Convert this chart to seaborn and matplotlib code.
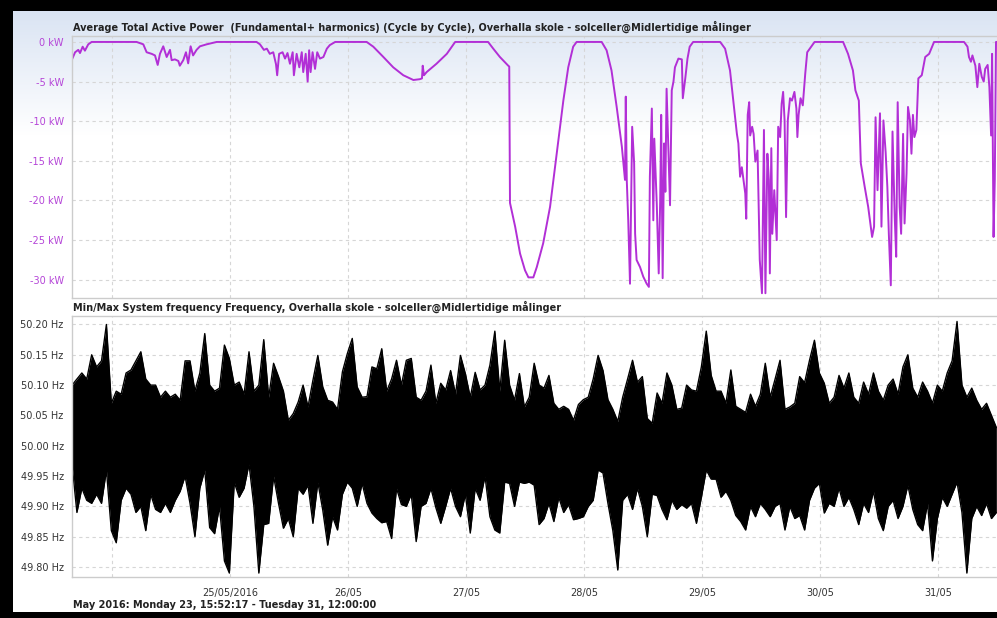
import numpy as np
import pandas as pd
import matplotlib
matplotlib.use("Agg")
import matplotlib.pyplot as plt
import seaborn as sns

# ── Data ────────────────────────────────────────────────────────────────────
START = pd.Timestamp("2016-05-23 00:00:00")
X_MIN = pd.Timestamp("2016-05-23 15:52:17")
X_MAX = pd.Timestamp("2016-05-31 12:00:00")

# active power: hours since 23/05 00:00 and kW
pw_hours = [15.8, 16.5, 17.15, 17.5, 18.04, 18.5, 19.18, 19.87, 29.0, 30.37, 31.05, 32.07, 32.75, 33.3,
            33.76, 34.43, 35.13, 35.8, 36.14, 36.8, 37.5, 37.8, 38.5, 39.05, 39.5, 40.0, 40.5, 41.2,
            41.9, 43.26, 44.6, 45.3, 53.4, 54.1, 54.9, 55.5, 56.1, 56.8, 57.36, 57.6, 58.0, 58.7,
            59.2, 59.7, 60.2, 60.75, 61.0, 61.56, 62.1, 62.6, 62.9, 63.4, 63.8, 64.1, 64.4, 64.8,
            65.3, 65.75, 66.3, 67.0, 67.7, 68.3, 69.4, 75.8, 77.15, 79.2, 81.2, 83.25, 85.3, 86.6,
            87.05, 87.2, 87.46, 88.0, 90.0, 92.1, 93.8, 100.5, 101.55, 102.9, 104.6, 104.8, 104.95,
            106.0, 107.0, 108.0, 108.7, 109.7, 110.4, 111.7, 113.1, 114.45, 115.8, 116.8, 117.8,
            118.5, 123.6, 124.6, 125.6, 126.65, 127.7, 128.34, 128.5, 128.7, 129.0, 129.36, 129.8,
            130.2, 130.4, 130.7, 131.4, 132.05, 132.75, 133.2, 133.4, 133.8, 134.1, 134.3, 134.8,
            135.2, 135.5, 135.7, 136.0, 136.3, 136.55, 136.8, 137.15, 137.5, 137.85, 138.2, 138.5,
            139.2, 139.9, 140.1, 140.6, 141.05, 141.5, 142.2, 147.7, 148.7, 149.7, 150.4, 151.1,
            151.4, 151.75, 152.1, 152.8, 153.0, 153.3, 153.6, 153.8, 154.2, 154.5, 154.85, 155.3,
            155.75, 156.2, 156.6, 156.9, 157.3, 157.6, 157.8, 158.1, 158.3, 158.7, 159.0, 159.2,
            159.5, 159.9, 160.2, 160.5, 160.8, 161.1, 161.45, 161.9, 162.3, 162.8, 163.2, 163.4,
            163.65, 164.05, 164.5, 165.0, 165.4, 166.2, 166.9, 172.7, 173.7, 174.7, 175.2, 175.9,
            176.3, 177.1, 177.8, 178.6, 179.0, 179.3, 179.7, 180.2, 180.5, 180.9, 181.35, 181.7,
            182.0, 182.4, 182.75, 183.2, 183.5, 183.8, 184.2, 184.5, 184.9, 185.2, 185.6, 185.9,
            186.3, 186.6, 186.9, 187.2, 187.6, 188.0, 188.7, 189.4, 190.2, 191.2, 197.3, 198.0,
            198.3, 198.7, 199.0, 199.6, 200.0, 200.4, 200.9, 201.3, 201.6, 202.1, 202.45, 202.8,
            203.0, 203.3, 203.55, 203.8, 204.0]
pw_kw = [-2.3, -1.3, -1.0, -1.4, -0.6, -1.1, -0.3, 0.0, 0.0, -0.3, -1.3, -1.5, -1.7, -2.9,
         -1.5, -0.55, -1.9, -1.0, -2.3, -2.2, -2.4, -3.0, -2.3, -1.3, -2.7, -0.55, -1.7, -1.0,
         -0.55, -0.3, -0.1, 0.0, 0.0, -0.3, -1.0, -0.85, -1.5, -1.3, -2.8, -4.2, -1.5, -1.3,
         -2.1, -1.4, -2.75, -1.3, -4.2, -1.5, -3.2, -1.3, -3.8, -1.5, -5.0, -1.05, -3.8, -1.3,
         -3.4, -1.3, -2.1, -1.9, -0.85, -0.4, 0.0, 0.0, -0.6, -1.9, -3.2, -4.2, -4.8, -4.7,
         -4.6, -3.0, -4.2, -3.8, -2.75, -1.5, 0.0, 0.0, -0.85, -1.9, -3.0, -3.1, -20.3,
         -23.3, -26.7, -28.8, -29.7, -29.7, -28.4, -25.4, -20.8, -14.1, -7.4, -3.2, -0.6,
         0.0, 0.0, -1.05, -3.6, -8.2, -13.2, -17.4, -6.9, -17.4, -22.5, -30.5, -10.7,
         -15.3, -24.2, -27.5, -28.4, -29.6, -30.5, -30.9, -17.0, -8.4, -22.5, -12.2, -20.4,
         -29.2, -20.0, -9.2, -29.8, -12.8, -18.9, -5.9, -13.2, -20.6, -6.1, -5.0, -3.2,
         -2.1, -2.2, -7.1, -4.6, -2.1, -0.6, 0.0, 0.0, -0.85, -3.6, -7.6, -11.6,
         -12.8, -17.0, -15.8, -19.1, -22.3, -9.2, -7.6, -11.8, -10.7, -11.6, -15.1, -13.7,
         -27.5, -31.7, -11.1, -31.7, -14.1, -17.4, -29.2, -13.4, -24.2, -18.7, -22.5, -25.0,
         -10.7, -12.0, -7.8, -6.3, -9.9, -22.1, -9.9, -7.1, -7.4, -6.3, -8.4, -12.0,
         -9.2, -7.1, -8.0, -4.0, -1.3, -0.6, 0.0, 0.0, -1.5, -3.6, -6.1, -7.4,
         -15.3, -18.3, -20.8, -24.6, -23.3, -9.5, -18.7, -9.0, -23.3, -9.9, -13.9, -18.3,
         -24.2, -30.7, -11.3, -22.1, -27.1, -7.6, -20.8, -24.2, -11.6, -22.9, -16.6, -8.2,
         -9.9, -14.1, -9.2, -12.0, -11.1, -4.6, -4.2, -1.9, -1.5, 0.0, 0.0, -0.6,
         -1.9, -2.5, -1.7, -3.0, -5.7, -2.75, -4.4, -5.0, -3.4, -2.9, -5.7, -11.8,
         -1.5, -24.6, -17.4, 0.0, 0.0]

# system frequency: hourly max / min from 23/05 15:52 (Hz)
freq_max = [50.100, 50.110, 50.120, 50.110, 50.150, 50.130, 50.140, 50.200, 50.070, 50.090,
            50.085, 50.120, 50.125, 50.140, 50.155, 50.110, 50.100, 50.100, 50.080, 50.090,
            50.080, 50.085, 50.075, 50.140, 50.140, 50.090, 50.120, 50.185, 50.100, 50.090,
            50.095, 50.166, 50.144, 50.100, 50.105, 50.085, 50.155, 50.090, 50.100, 50.175,
            50.080, 50.136, 50.114, 50.090, 50.042, 50.053, 50.072, 50.100, 50.064, 50.108,
            50.149, 50.097, 50.075, 50.072, 50.060, 50.122, 50.152, 50.177, 50.097, 50.080,
            50.081, 50.130, 50.127, 50.160, 50.090, 50.110, 50.141, 50.100, 50.141, 50.144,
            50.080, 50.075, 50.090, 50.133, 50.070, 50.103, 50.092, 50.124, 50.085, 50.149,
            50.119, 50.080, 50.121, 50.092, 50.100, 50.133, 50.189, 50.090, 50.174, 50.100,
            50.075, 50.119, 50.064, 50.080, 50.136, 50.100, 50.095, 50.116, 50.070, 50.060,
            50.065, 50.060, 50.042, 50.068, 50.076, 50.080, 50.110, 50.149, 50.124, 50.076,
            50.060, 50.040, 50.080, 50.110, 50.141, 50.105, 50.114, 50.045, 50.037, 50.087,
            50.070, 50.120, 50.100, 50.060, 50.062, 50.100, 50.092, 50.090, 50.130, 50.189,
            50.116, 50.090, 50.090, 50.070, 50.125, 50.065, 50.060, 50.055, 50.085, 50.065,
            50.085, 50.136, 50.080, 50.110, 50.141, 50.060, 50.064, 50.070, 50.114, 50.104,
            50.141, 50.174, 50.120, 50.103, 50.070, 50.080, 50.116, 50.095, 50.120, 50.080,
            50.070, 50.105, 50.085, 50.120, 50.090, 50.075, 50.100, 50.110, 50.085, 50.130,
            50.150, 50.095, 50.080, 50.105, 50.090, 50.070, 50.100, 50.090, 50.120, 50.140,
            50.205, 50.100, 50.080, 50.095, 50.075, 50.060, 50.070, 50.050, 50.030]
freq_min = [49.970, 49.890, 49.930, 49.910, 49.905, 49.920, 49.905, 49.960, 49.860, 49.840,
            49.910, 49.930, 49.920, 49.890, 49.900, 49.860, 49.920, 49.895, 49.890, 49.905,
            49.890, 49.910, 49.925, 49.950, 49.905, 49.850, 49.930, 49.960, 49.865, 49.855,
            49.900, 49.810, 49.790, 49.940, 49.915, 49.930, 49.970, 49.900, 49.790, 49.870,
            49.872, 49.950, 49.905, 49.864, 49.880, 49.850, 49.930, 49.920, 49.935, 49.872,
            49.940, 49.894, 49.836, 49.883, 49.861, 49.920, 49.940, 49.930, 49.900, 49.938,
            49.905, 49.889, 49.880, 49.873, 49.875, 49.847, 49.930, 49.903, 49.900, 49.920,
            49.842, 49.900, 49.905, 49.930, 49.898, 49.872, 49.900, 49.930, 49.900, 49.883,
            49.920, 49.856, 49.930, 49.910, 49.950, 49.883, 49.861, 49.856, 49.940, 49.938,
            49.900, 49.940, 49.938, 49.940, 49.935, 49.870, 49.880, 49.905, 49.875, 49.915,
            49.890, 49.903, 49.878, 49.880, 49.883, 49.900, 49.910, 49.960, 49.955, 49.905,
            49.860, 49.795, 49.910, 49.920, 49.895, 49.930, 49.900, 49.850, 49.920, 49.918,
            49.895, 49.878, 49.910, 49.895, 49.903, 49.897, 49.905, 49.872, 49.915, 49.960,
            49.945, 49.945, 49.915, 49.925, 49.910, 49.885, 49.875, 49.861, 49.900, 49.883,
            49.905, 49.895, 49.883, 49.900, 49.905, 49.861, 49.900, 49.880, 49.885, 49.861,
            49.910, 49.930, 49.938, 49.889, 49.905, 49.900, 49.930, 49.900, 49.915, 49.895,
            49.870, 49.905, 49.890, 49.925, 49.880, 49.860, 49.900, 49.910, 49.880, 49.900,
            49.935, 49.895, 49.870, 49.860, 49.905, 49.810, 49.880, 49.915, 49.900, 49.920,
            49.940, 49.890, 49.790, 49.880, 49.900, 49.885, 49.905, 49.880, 49.890]

kw_ticks = [0, -5, -10, -15, -20, -25, -30]
hz_ticks = [50.20, 50.15, 50.10, 50.05, 50.00, 49.95, 49.90, 49.85, 49.80]
day_ticks = pd.date_range("2016-05-24", "2016-05-31", freq="D")
day_labels = ["", "25/05/2016", "26/05", "27/05", "28/05", "29/05", "30/05", "31/05"]

TITLE_TOP = "Average Total Active Power  (Fundamental+ harmonics) (Cycle by Cycle), Overhalla skole - solceller@Midlertidige målinger"
TITLE_BOT = "Min/Max System frequency Frequency, Overhalla skole - solceller@Midlertidige målinger"
FOOTER = "May 2016: Monday 23, 15:52:17 - Tuesday 31, 12:00:00"

power = pd.DataFrame({"time": START + pd.to_timedelta(pw_hours, unit="h"), "kw": pw_kw})
freq = pd.DataFrame({"time": pd.date_range(X_MIN, periods=len(freq_max), freq="h"),
                     "fmax": freq_max, "fmin": freq_min})

# ── Style ───────────────────────────────────────────────────────────────────
sns.set_style("white")
plt.rcParams.update({"font.family": ["DejaVu Sans"], "font.size": 7})

PURPLE = "#b22fd6"
GRID = "#d6d6d6"
SPINE = "#cccccc"
W, H = 997, 618

fig = plt.figure(figsize=(W / 100, H / 100), dpi=100, facecolor="black")

# background panel with light blue gradient at the top
bg = fig.add_axes([13 / W, 6 / H, 1 - 13 / W, (612 - 11) / H])
rows = np.ones(601)
rows[:125] = np.linspace(0.0, 1.0, 125)
top_rgb = np.array([0.855, 0.894, 0.953])
img = top_rgb[None, :] + (1 - top_rgb)[None, :] * rows[:, None]
bg.imshow(np.repeat(img[:, None, :], 10, axis=1), aspect="auto", extent=[0, 1, 0, 1])
bg.set_axis_off()


def px_axes(left, top, right, bottom):
    return fig.add_axes([left / W, 1 - bottom / H, (right - left) / W, (bottom - top) / H])


def style_axes(ax):
    ax.set_facecolor("none")
    ax.set_axisbelow(True)
    ax.grid(True, color=GRID, linestyle=(0, (3, 3)), linewidth=0.8)
    for side in ["left", "bottom", "top"]:
        ax.spines[side].set_color(SPINE)
        ax.spines[side].set_linewidth(1.0)
    ax.spines["right"].set_visible(False)
    ax.set_xlim(X_MIN, X_MAX)
    ax.set_xticks(day_ticks)
    ax.set_xlabel("")
    ax.set_ylabel("")
    ax.tick_params(axis="y", length=3, width=0.8, color=SPINE, pad=3, labelsize=7)


# ── Top: active power ───────────────────────────────────────────────────────
ax1 = px_axes(72, 36, 997, 298)
sns.lineplot(data=power, x="time", y="kw", ax=ax1, color=PURPLE, linewidth=1.4)
style_axes(ax1)
ax1.set_ylim(-32.3, 0.75)
ax1.set_yticks(kw_ticks)
ax1.set_yticklabels([f"{t} kW" for t in kw_ticks], color="#b545d8")
ax1.tick_params(axis="x", length=0, labelbottom=False)

# ── Bottom: min/max frequency ───────────────────────────────────────────────
ax2 = px_axes(72, 316, 997, 577)
ax2.fill_between(freq["time"], freq["fmin"], freq["fmax"], color="black", linewidth=0)
sns.lineplot(data=freq, x="time", y="fmax", ax=ax2, color="black", linewidth=1.0)
sns.lineplot(data=freq, x="time", y="fmin", ax=ax2, color="black", linewidth=1.0)
style_axes(ax2)
ax2.set_ylim(49.7835, 50.214)
ax2.set_yticks(hz_ticks)
ax2.set_yticklabels([f"{t:.2f} Hz" for t in hz_ticks], color="#333333")
ax2.set_xticklabels(day_labels, color="#333333", fontsize=7)
ax2.tick_params(axis="x", length=5, width=0.8, color=SPINE, pad=3)

# ── Texts ───────────────────────────────────────────────────────────────────
fig.text(73 / W, 1 - 27 / H, TITLE_TOP, fontsize=7.0, fontweight="bold", color="#222222", va="center")
fig.text(73 / W, 1 - 307 / H, TITLE_BOT, fontsize=7.0, fontweight="bold", color="#222222", va="center")
fig.text(73 / W, 1 - 605 / H, FOOTER, fontsize=7.0, fontweight="bold", color="#222222", va="center")

fig.savefig("out.png", dpi=100, facecolor="black")
